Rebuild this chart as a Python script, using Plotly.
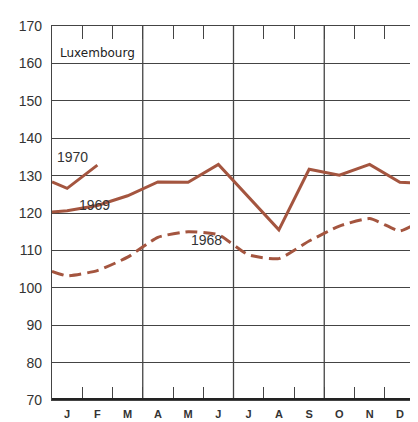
import plotly.graph_objects as go

# ---- data (index values, monthly) ----
months = ["J", "F", "M", "A", "M", "J", "J", "A", "S", "O", "N", "D"]
y1968 = [103.2, 104.6, 108.2, 113.5, 115.0, 114.2, 108.8, 107.8, 112.5, 116.5, 118.5, 115.2]
y1968_start, y1968_end = 104.4, 117.0
y1969 = [120.6, 122.0, 124.6, 128.3, 128.2, 133.0, 124.3, 115.5, 131.7, 130.1, 133.0, 128.2]
y1969_start, y1969_end = 120.3, 128.0
y1970 = [126.6, 132.8]
y1970_start = 128.3
y_ticks = [70, 80, 90, 100, 110, 120, 130, 140, 150, 160, 170]

n = len(months)
centers = [i + 0.5 for i in range(n)]
color = "#a4553f"
ink = "#444444"

fig = go.Figure()
fig.add_trace(go.Scatter(
    x=[0] + centers + [n], y=[y1968_start] + y1968 + [y1968_end],
    mode="lines", line=dict(color=color, width=3, dash="12px,6px", shape="spline", smoothing=0.5),
    hoverinfo="skip", showlegend=False))
fig.add_trace(go.Scatter(
    x=[0] + centers + [n], y=[y1969_start] + y1969 + [y1969_end],
    mode="lines", line=dict(color=color, width=3),
    hoverinfo="skip", showlegend=False))
fig.add_trace(go.Scatter(
    x=[0] + centers[:len(y1970)], y=[y1970_start] + y1970,
    mode="lines", line=dict(color=color, width=3),
    hoverinfo="skip", showlegend=False))

# quarter boundary lines
for q in range(3, n, 3):
    fig.add_shape(type="line", xref="x", yref="paper", x0=q, x1=q, y0=0, y1=1,
                  line=dict(color=ink, width=1.3), layer="below")
# heavy base line
fig.add_shape(type="line", xref="paper", yref="y", x0=0, x1=1, y0=y_ticks[0], y1=y_ticks[0],
              line=dict(color="#222", width=4))

ann_font = dict(family="Liberation Sans, Arial", size=14, color="#333")
fig.add_annotation(x=0.69, y=134.9, text="1970", showarrow=False, font=ann_font)
fig.add_annotation(x=1.42, y=122.1, text="1969", showarrow=False, font=ann_font)
fig.add_annotation(x=5.11, y=112.8, text="1968", showarrow=False, font=ann_font)
fig.add_annotation(x=1.52, y=162.8, text="Luxembourg", showarrow=False,
                   font=dict(family="DejaVu Sans", size=12, color="#222"))

fig.update_layout(
    width=418, height=422,
    margin=dict(l=44, r=10, t=16, b=30),
    paper_bgcolor="white", plot_bgcolor="white",
    xaxis=dict(range=[0, n], tickvals=centers, ticktext=months,
               ticks="", showgrid=False, zeroline=False,
               showline=True, linecolor=ink, linewidth=1.3, mirror="ticks",
               ticklabelstandoff=4,
               tickfont=dict(family="Liberation Sans, Arial", size=11, color="#333", weight="bold"),
               minor=dict(tickvals=list(range(1, n)), ticks="inside", ticklen=13,
                          tickwidth=1.2, tickcolor=ink, showgrid=False)),
    yaxis=dict(range=[y_ticks[0], y_ticks[-1]], tickvals=y_ticks, ticks="",
               showgrid=True, gridcolor=ink, gridwidth=1.1, zeroline=False,
               showline=True, linecolor=ink, linewidth=1.3, mirror=True,
               ticklabelstandoff=6,
               tickfont=dict(family="Liberation Sans, Arial", size=14, color="#333")),
)

fig.write_html("out.html")
